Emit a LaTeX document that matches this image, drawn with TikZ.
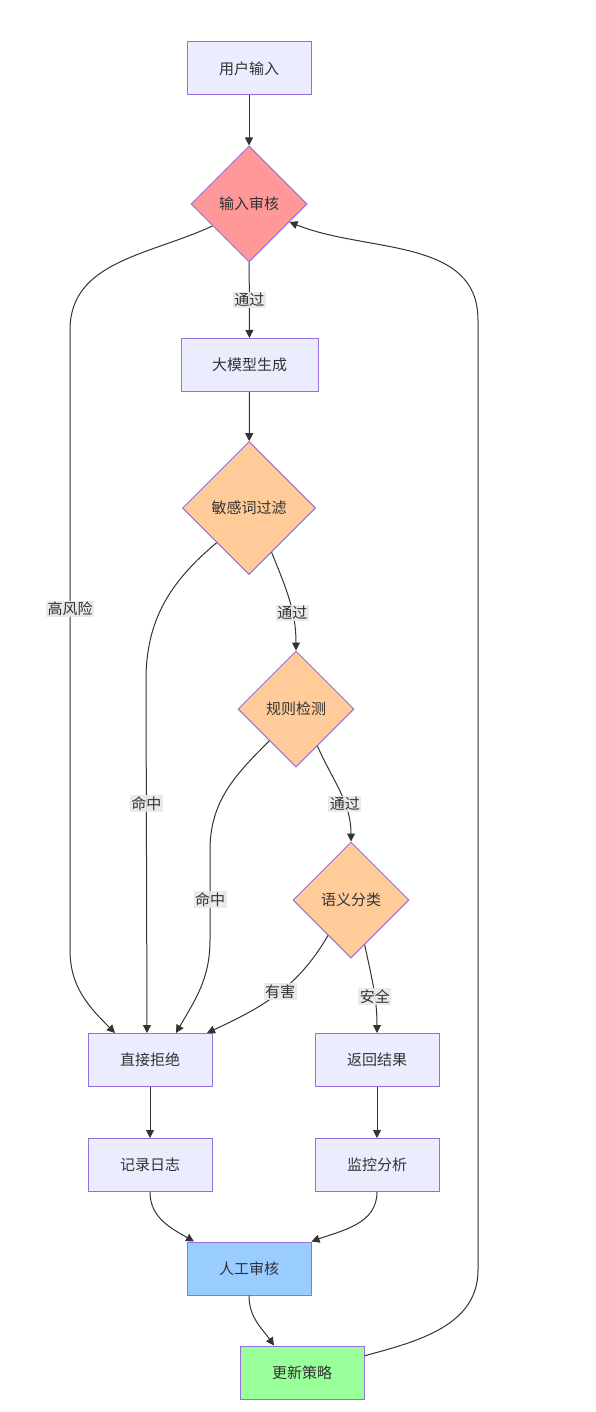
\documentclass[tikz,border=0pt]{standalone}
\usepackage{fontspec}
\setmainfont{Noto Sans CJK SC}
\usepackage{tikz}
\usetikzlibrary{arrows.meta,shapes.geometric}

\definecolor{boxfill}{HTML}{ECECFF}
\definecolor{boxline}{HTML}{9370DB}
\definecolor{ink}{HTML}{333333}
\definecolor{redfill}{HTML}{FF9999}
\definecolor{orangefill}{HTML}{FFCC99}
\definecolor{bluefill}{HTML}{99CCFF}
\definecolor{greenfill}{HTML}{99FF99}
\definecolor{lblfill}{HTML}{E8E8E8}

\begin{document}
\begin{tikzpicture}[
  x=1pt, y=1pt,
  every node/.style={font=\fontsize{15}{18}\selectfont, text=ink},
  box/.style={rectangle, draw=boxline, fill=boxfill, line width=1pt,
    minimum width=124pt, minimum height=53pt, inner xsep=31pt},
  decision/.style={diamond, draw=boxline, line width=1pt, aspect=1, inner sep=0pt},
  edge/.style={draw=ink, line width=1pt, -{Triangle[length=8pt,width=8pt]}},
  lbl/.style={fill=lblfill, fill opacity=0.9, text opacity=1, inner sep=1.5pt}
]
  \useasboundingbox (0,0) rectangle (596,-1412);

  % Nodes
  \node[box] (input) at (249,-68.5) {用户输入};
  \node[decision, fill=redfill, minimum size=116pt] (audit) at (249,-204) {输入审核};
  \node[box] (gen) at (249.5,-365) {大模型生成};
  \node[decision, fill=orangefill, minimum size=133pt] (filter) at (249,-508) {敏感词过滤};
  \node[decision, fill=orangefill, minimum size=116pt] (rules) at (296,-709) {规则检测};
  \node[decision, fill=orangefill, minimum size=116pt] (semantic) at (351,-900) {语义分类};
  \node[box] (reject) at (150,-1060) {直接拒绝};
  \node[box] (result) at (377,-1060) {返回结果};
  \node[box] (logbook) at (150,-1165) {记录日志};
  \node[box] (monitor) at (377,-1165) {监控分析};
  \node[box, fill=bluefill] (review) at (249,-1268.5) {人工审核};
  \node[box, fill=greenfill] (update) at (302,-1372.5) {更新策略};

  % Edges
  \draw[edge] (input) -- (audit);
  \draw[edge] (audit) -- node[lbl] {通过} (gen);
  \draw[edge] (audit.211) to[out=205,in=90] (70,-330) -- node[lbl,pos=0.45] {高风险} (70,-950)
    to[out=-90,in=135] ([xshift=-35pt]reject.north);
  \draw[edge] (gen) -- (filter);
  \draw[edge] (filter.-63) to[out=-68,in=90] node[lbl,pos=0.64] {通过} (rules.north);
  \draw[edge] (filter.227) to[out=220,in=90] (146,-680) -- node[lbl,pos=0.35] {命中} ([xshift=-3pt]reject.north);
  \draw[edge] (rules.-60) to[out=-66,in=90] node[lbl,pos=0.63] {通过} (semantic.north);
  \draw[edge] (rules.230) to[out=225,in=90] (210,-850) -- node[lbl,pos=0.55] {命中} (210,-940)
    to[out=-90,in=60] ([xshift=26pt]reject.north);
  \draw[edge] (semantic.237) to[out=240,in=25] node[lbl,pos=0.47] {有害} ([xshift=57pt]reject.north);
  \draw[edge] (semantic.-73) to[out=-78,in=90] node[lbl,pos=0.6] {安全} (result.north);
  \draw[edge] (reject) -- (logbook);
  \draw[edge] (result) -- (monitor);
  \draw[edge] (logbook.south) to[out=-90,in=150] ([xshift=-55pt]review.north);
  \draw[edge] (monitor.south) to[out=-90,in=20] (review.north east);
  \draw[edge] (review.south) to[out=-90,in=125] ([xshift=-28pt]update.north);
  \draw[edge] (update.15) to[out=15,in=-90] (478,-1270) -- (478,-320)
    to[out=90,in=-22] (audit.-24);

\end{tikzpicture}
\end{document}
